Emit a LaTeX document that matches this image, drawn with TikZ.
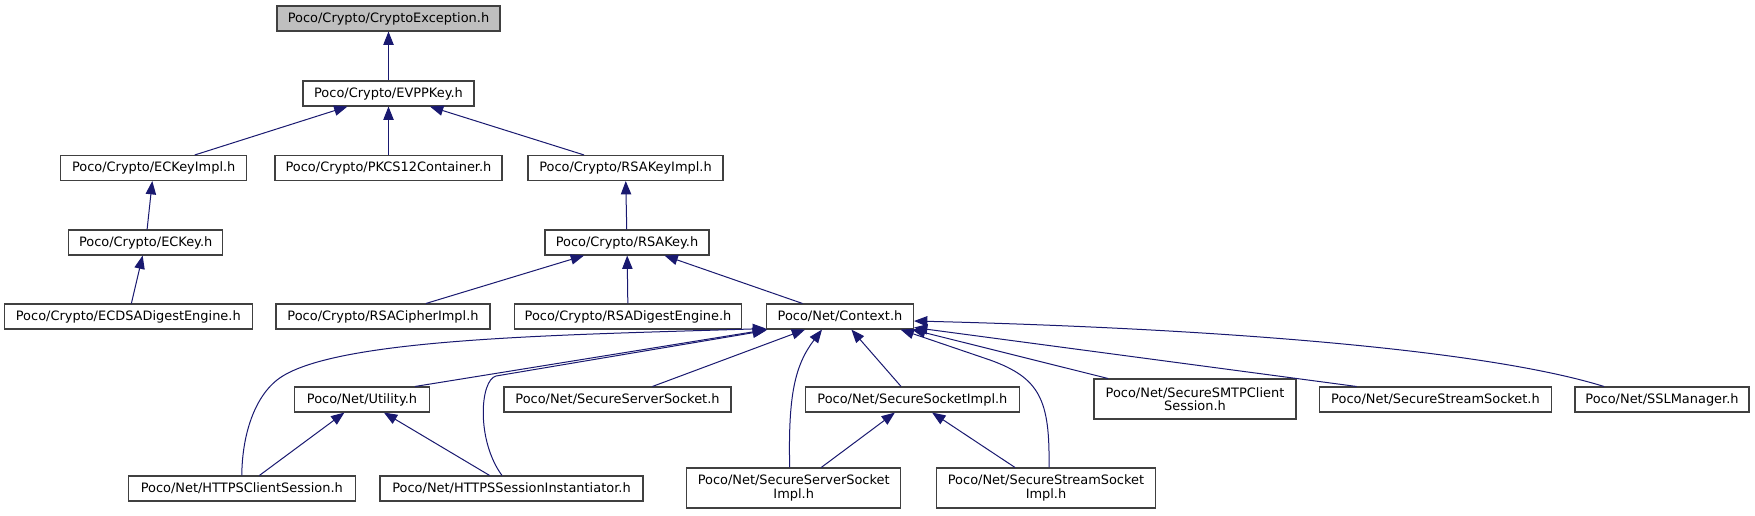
\documentclass[tikz,border=0pt]{standalone}
\usepackage{fontspec}
\setmainfont{DejaVu Sans}
\usetikzlibrary{arrows.meta,calc}
\definecolor{edgeblue}{HTML}{191970}
\definecolor{boxline}{HTML}{404040}
\definecolor{rootfill}{HTML}{BFBFBF}
\begin{document}
\begin{tikzpicture}[x=0.75pt,y=-0.75pt,
  box/.style={draw=boxline, line width=0.8pt, fill=white, inner sep=0pt,
    minimum height=18.75pt, align=center, font=\fontsize{9.7}{10}\selectfont},
  box2/.style={box, minimum height=30pt},
  bw/.style={minimum width=#1*0.75pt},
  dep/.style={draw=edgeblue, line width=0.75pt, {Triangle[length=10pt,width=7.75pt]}-}]
\useasboundingbox[fill=white] (0,0) rectangle (1755,515);
% nodes
\node[box,bw=223,fill=rootfill] (ce) at (388.5,18.5) {Poco/Crypto/CryptoException.h};
\node[box,bw=171] (evp) at (388.5,93.5) {Poco/Crypto/EVPPKey.h};
\node[box,bw=186.5] (eckimpl) at (153.7,168) {Poco/Crypto/ECKeyImpl.h};
\node[box,bw=227] (pkcs) at (388.5,168) {Poco/Crypto/PKCS12Container.h};
\node[box,bw=195] (rsakimpl) at (625.5,168) {Poco/Crypto/RSAKeyImpl.h};
\node[box,bw=154.5] (eckey) at (145.7,242.5) {Poco/Crypto/ECKey.h};
\node[box,bw=164] (rsakey) at (627,242.5) {Poco/Crypto/RSAKey.h};
\node[box,bw=247.5] (ecdsa) at (128.3,316.5) {Poco/Crypto/ECDSADigestEngine.h};
\node[box,bw=214] (rsacipher) at (383,316.5) {Poco/Crypto/RSACipherImpl.h};
\node[box,bw=227.5] (rsadig) at (628,316.5) {Poco/Crypto/RSADigestEngine.h};
\node[box,bw=147] (ctx) at (840,316.5) {Poco/Net/Context.h};
\node[box,bw=134.5] (util) at (362,399.5) {Poco/Net/Utility.h};
\node[box,bw=227] (sss) at (617.5,399.5) {Poco/Net/SecureServerSocket.h};
\node[box,bw=214] (ssi) at (912.4,399.5) {Poco/Net/SecureSocketImpl.h};
\node[box2,bw=202] (smtp) at (1195,399) {Poco/Net/SecureSMTPClient\\Session.h};
\node[box,bw=231.5] (sstream) at (1435.5,399.5) {Poco/Net/SecureStreamSocket.h};
\node[box,bw=174] (ssl) at (1662,399.5) {Poco/Net/SSLManager.h};
\node[box,bw=226.5] (https) at (241.8,488.5) {Poco/Net/HTTPSClientSession.h};
\node[box,bw=263] (httpsi) at (511.5,488.5) {Poco/Net/HTTPSSessionInstantiator.h};
\node[box2,bw=214.5] (sssimpl) at (793.7,488) {Poco/Net/SecureServerSocket\\Impl.h};
\node[box2,bw=219] (sstsimpl) at (1046,488) {Poco/Net/SecureStreamSocket\\Impl.h};
% edges
\draw[dep] (ce.south) -- (evp.north);
\draw[dep] (evp) -- (eckimpl);
\draw[dep] (evp.south) -- (pkcs.north);
\draw[dep] (evp) -- (rsakimpl);
\draw[dep] (eckimpl) -- (eckey);
\draw[dep] (eckey) -- (ecdsa);
\draw[dep] (rsakimpl) -- (rsakey);
\draw[dep] (rsakey) -- (rsacipher);
\draw[dep] (rsakey) -- (rsadig);
\draw[dep] (rsakey) -- (ctx);
\draw[dep] ($(ctx.south west)+(1.5,0)$) -- ($(util.north)+(53,0)$);
\draw[dep] ($(ctx.south west)+(0,-1)$) .. controls (560,335) and (330,338) .. (277,380)
   .. controls (252,400) and (242,440) .. (https.north);
\draw[dep] ($(ctx.south west)+(0,1)$) -- (496,376) .. controls (480,380) and (476,440) .. ($(httpsi.north)+(-9.5,0)$);
\draw[dep] (ctx) -- (sss);
\draw[dep] ($(ctx.south)+(-18,0)$) .. controls (795,365) and (788,395) .. ($(sssimpl.north)+(-4,0)$);
\draw[dep] (ctx) -- (ssi);
\draw[dep] ($(ctx.south east)+(-13.5,0)$) -- (990,360) .. controls (1040,378) and (1050,400) .. ($(sstsimpl.north)+(3,0)$);
\draw[dep] (ssi) -- (sssimpl);
\draw[dep] (ssi) -- (sstsimpl);
\draw[dep] (util) -- (https);
\draw[dep] (util) -- (httpsi);
\draw[dep] ($(ctx.south east)+(-2,0)$) -- ($(smtp.north)+(-87,0)$);
\draw[dep] ($(ctx.south east)+(0,-2)$) -- ($(sstream.north)+(-79,0)$);
\draw[dep] ($(ctx.east)+(0,4.5)$) .. controls (1200,328) and (1480,348) .. ($(ssl.north)+(-58,0)$);
\end{tikzpicture}
\end{document}
